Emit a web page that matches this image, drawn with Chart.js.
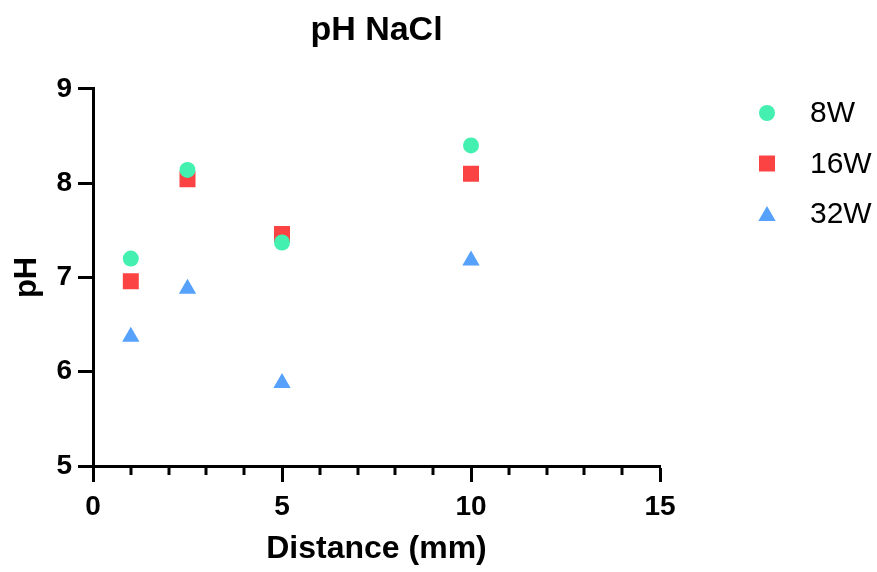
<!DOCTYPE html>
<html>
<head>
<meta charset="utf-8">
<title>pH NaCl</title>
<script src="https://cdn.jsdelivr.net/npm/chart.js@4.4.1/dist/chart.umd.min.js"></script>
<style>
    html, body { margin: 0; padding: 0; background: #fff; }
    canvas { display: block; }
</style>
</head>
<body>
<canvas id="phChart" width="877" height="572"></canvas>
<script>
// chart data
const distances = [1, 2.5, 5, 10];
const seriesNames = ['8W', '16W', '32W'];
const ph8W = [7.2, 8.14, 7.37, 8.4];
const ph16W = [6.96, 8.04, 7.46, 8.1];
const ph32W = [6.37, 6.88, 5.88, 7.18];
const xTicks = [0, 5, 10, 15];
const yTicks = [5, 6, 7, 8, 9];

const FONT = "'Liberation Sans', Arial, Helvetica, sans-serif";
Chart.defaults.font.family = FONT;
Chart.defaults.color = '#000';

const seriesStyles = [
    { color: '#43F0AF', pointStyle: 'circle', radius: 8 },
    { color: '#FB4343', pointStyle: 'rect', radius: 11.3 },
    { color: '#55A1FB', pointStyle: 'triangle', radius: 10 }
];

function toPoints(values) {
    return distances.map((d, i) => ({ x: d, y: values[i] }));
}

const datasets = [ph8W, ph16W, ph32W].map((values, i) => ({
    label: seriesNames[i],
    data: toPoints(values),
    backgroundColor: seriesStyles[i].color,
    borderColor: seriesStyles[i].color,
    borderWidth: 0,
    pointStyle: seriesStyles[i].pointStyle,
    pointRadius: seriesStyles[i].radius,
    pointHoverRadius: seriesStyles[i].radius
}));

// short ticks between the labelled ones on the x axis
const minorTicks = {
    id: 'minorTicks',
    afterDraw(chart) {
        const xs = chart.scales.x;
        const ctx = chart.ctx;
        ctx.save();
        ctx.strokeStyle = '#000';
        ctx.lineWidth = 3;
        for (let v = xs.min; v <= xs.max; v++) {
            if (xTicks.includes(v)) continue;
            const px = Math.round(xs.getPixelForValue(v));
            ctx.beginPath();
            ctx.moveTo(px, xs.top);
            ctx.lineTo(px, xs.top + 9);
            ctx.stroke();
        }
        ctx.restore();
    }
};

// legend on the right, drawn with the dataset styles
const sideLegend = {
    id: 'sideLegend',
    afterDraw(chart) {
        const ctx = chart.ctx;
        const markerX = 767, textX = 810, firstY = 113, rowGap = 50.5;
        ctx.save();
        chart.data.datasets.forEach((ds, i) => {
            const y = firstY + i * rowGap;
            ctx.fillStyle = ds.backgroundColor;
            Chart.helpers.drawPoint(ctx, {
                pointStyle: ds.pointStyle,
                radius: ds.pointRadius,
                rotation: 0,
                borderWidth: 0
            }, markerX, y + (ds.pointStyle === 'triangle' ? 2 : 0));
            ctx.fillStyle = '#000';
            ctx.font = '30px ' + FONT;
            ctx.textAlign = 'left';
            ctx.textBaseline = 'middle';
            ctx.fillText(ds.label, textX, y + 1);
        });
        ctx.restore();
    }
};

new Chart(document.getElementById('phChart'), {
    type: 'scatter',
    data: { datasets: datasets },
    options: {
        responsive: false,
        animation: false,
        layout: { padding: { left: 0, right: 217, top: 0, bottom: 0 } },
        plugins: {
            legend: { display: false },
            tooltip: { enabled: false },
            title: {
                display: true,
                text: 'pH NaCl',
                fullSize: false,
                font: { size: 34, weight: 'bold' },
                padding: { top: 10, bottom: 38 }
            }
        },
        scales: {
            x: {
                type: 'linear',
                min: 0,
                max: 15,
                afterFit: s => { s.height = 106; },
                afterBuildTicks: s => { s.ticks = xTicks.map(v => ({ value: v })); },
                ticks: { font: { size: 28, weight: 'bold' }, padding: 8, maxRotation: 0 },
                grid: { drawOnChartArea: false, drawTicks: true, tickLength: 16, tickWidth: 3, tickColor: '#000' },
                border: { display: true, width: 3, color: '#000' },
                title: {
                    display: true,
                    text: 'Distance (mm)',
                    font: { size: 32, weight: 'bold' },
                    padding: { top: 4, bottom: 4 }
                }
            },
            y: {
                type: 'linear',
                min: 5,
                max: 9,
                afterFit: s => { s.width = 93; },
                afterBuildTicks: s => { s.ticks = yTicks.map(v => ({ value: v })); },
                ticks: { font: { size: 28, weight: 'bold' }, padding: 6 },
                grid: { drawOnChartArea: false, drawTicks: true, tickLength: 15, tickWidth: 3, tickColor: '#000' },
                border: { display: true, width: 3, color: '#000' },
                title: {
                    display: true,
                    text: 'pH',
                    font: { size: 31, weight: 'bold' },
                    padding: { top: 9, bottom: 9 }
                }
            }
        }
    },
    plugins: [minorTicks, sideLegend]
});
</script>
</body>
</html>
